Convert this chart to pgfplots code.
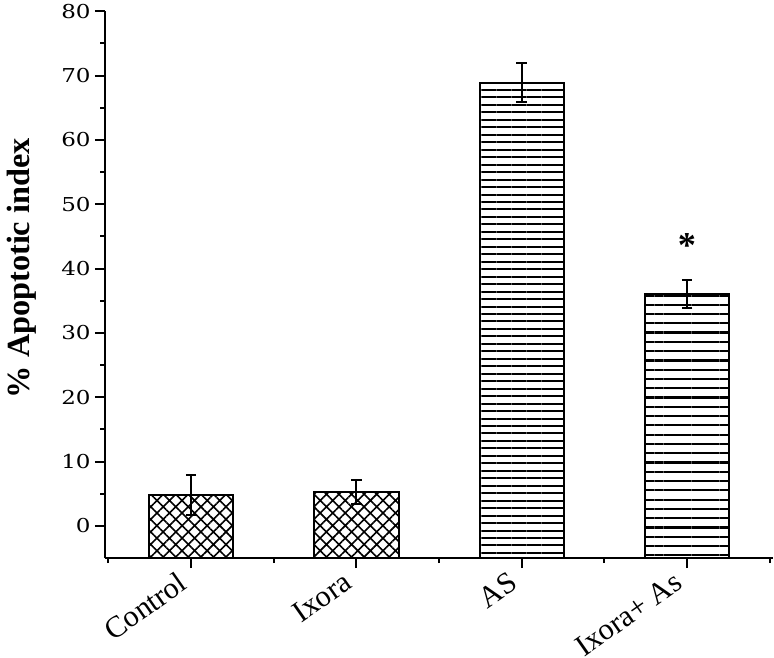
\documentclass[border=0pt]{standalone}
\usepackage{pgfplots}
\pgfplotsset{compat=1.18}
\usepackage{fontspec}
\setmainfont{Liberation Serif}
\newfontfamily\tickfont[FakeStretch=1.2]{DejaVu Serif}
\usetikzlibrary{patterns.meta}

\begin{document}
\begin{tikzpicture}
\begin{axis}[
  scale only axis, width=331pt, height=271pt,
  xmin=0.48, xmax=4.52, ymin=-5, ymax=80,
  % bars start at the bottom of the axis (-5), as in the original
  y coord trafo/.code={\pgfmathparse{#1+5}},
  y coord inv trafo/.code={\pgfmathparse{#1-5}},
  axis lines=left, axis line style={-, line width=1pt},
  xtick={1,2,3,4}, xticklabels={Control, Ixora, AS, Ixora+ As},
  minor xtick={0.5,1.5,2.5,3.5,4.5},
  ytick={0,10,...,80}, yticklabels={0,10,20,30,40,50,60,70,80},
  minor ytick={5,15,...,75},
  tick align=outside, major tick length=5pt, minor tick length=2.5pt,
  every tick/.style={black, line width=1pt},
  x tick label style={xshift=-7pt, yshift=-1pt, rotate=35, anchor=north east,
    inner sep=0pt, font=\fontsize{15}{17}\selectfont},
  y tick label style={font=\tickfont\fontsize{9.5}{12}\selectfont, inner sep=2pt},
  /pgf/number format/assume math mode=true,
  ylabel={\textbf{\% Apoptotic index}},
  ylabel style={font=\fontsize{16}{18}\selectfont, at={(ticklabel cs:0.53)}},
  ylabel shift=7pt,
  every axis plot/.append style={ybar, bar shift=0pt, bar width=0.51,
    draw=black, line width=1pt, pattern color=black},
  error bars/error bar style={line width=1pt, black},
  error bars/error mark options={rotate=90, mark size=2.6pt, line width=1pt, black},
]
\addplot[pattern={Hatch[angle=45,distance=4.4pt,line width=0.8pt]},
  error bars/.cd, y dir=both, y explicit]
  coordinates {(1,4.8) +- (0,3.1)};
\addplot[pattern={Hatch[angle=45,distance=4.4pt,line width=0.8pt]},
  error bars/.cd, y dir=both, y explicit]
  coordinates {(2,5.3) +- (0,1.85)};
\addplot[pattern={Lines[angle=0,distance=3.7pt,line width=1pt]},
  error bars/.cd, y dir=both, y explicit]
  coordinates {(3,68.9) +- (0,3.0)};
\addplot[pattern={Lines[angle=0,distance=4.6pt,line width=1.1pt]},
  error bars/.cd, y dir=both, y explicit]
  coordinates {(4,36.1) +- (0,2.15)};
\node[font=\fontsize{18}{20}\selectfont\bfseries] at (axis cs:4,43.6) {*};
\end{axis}
\end{tikzpicture}
\end{document}
